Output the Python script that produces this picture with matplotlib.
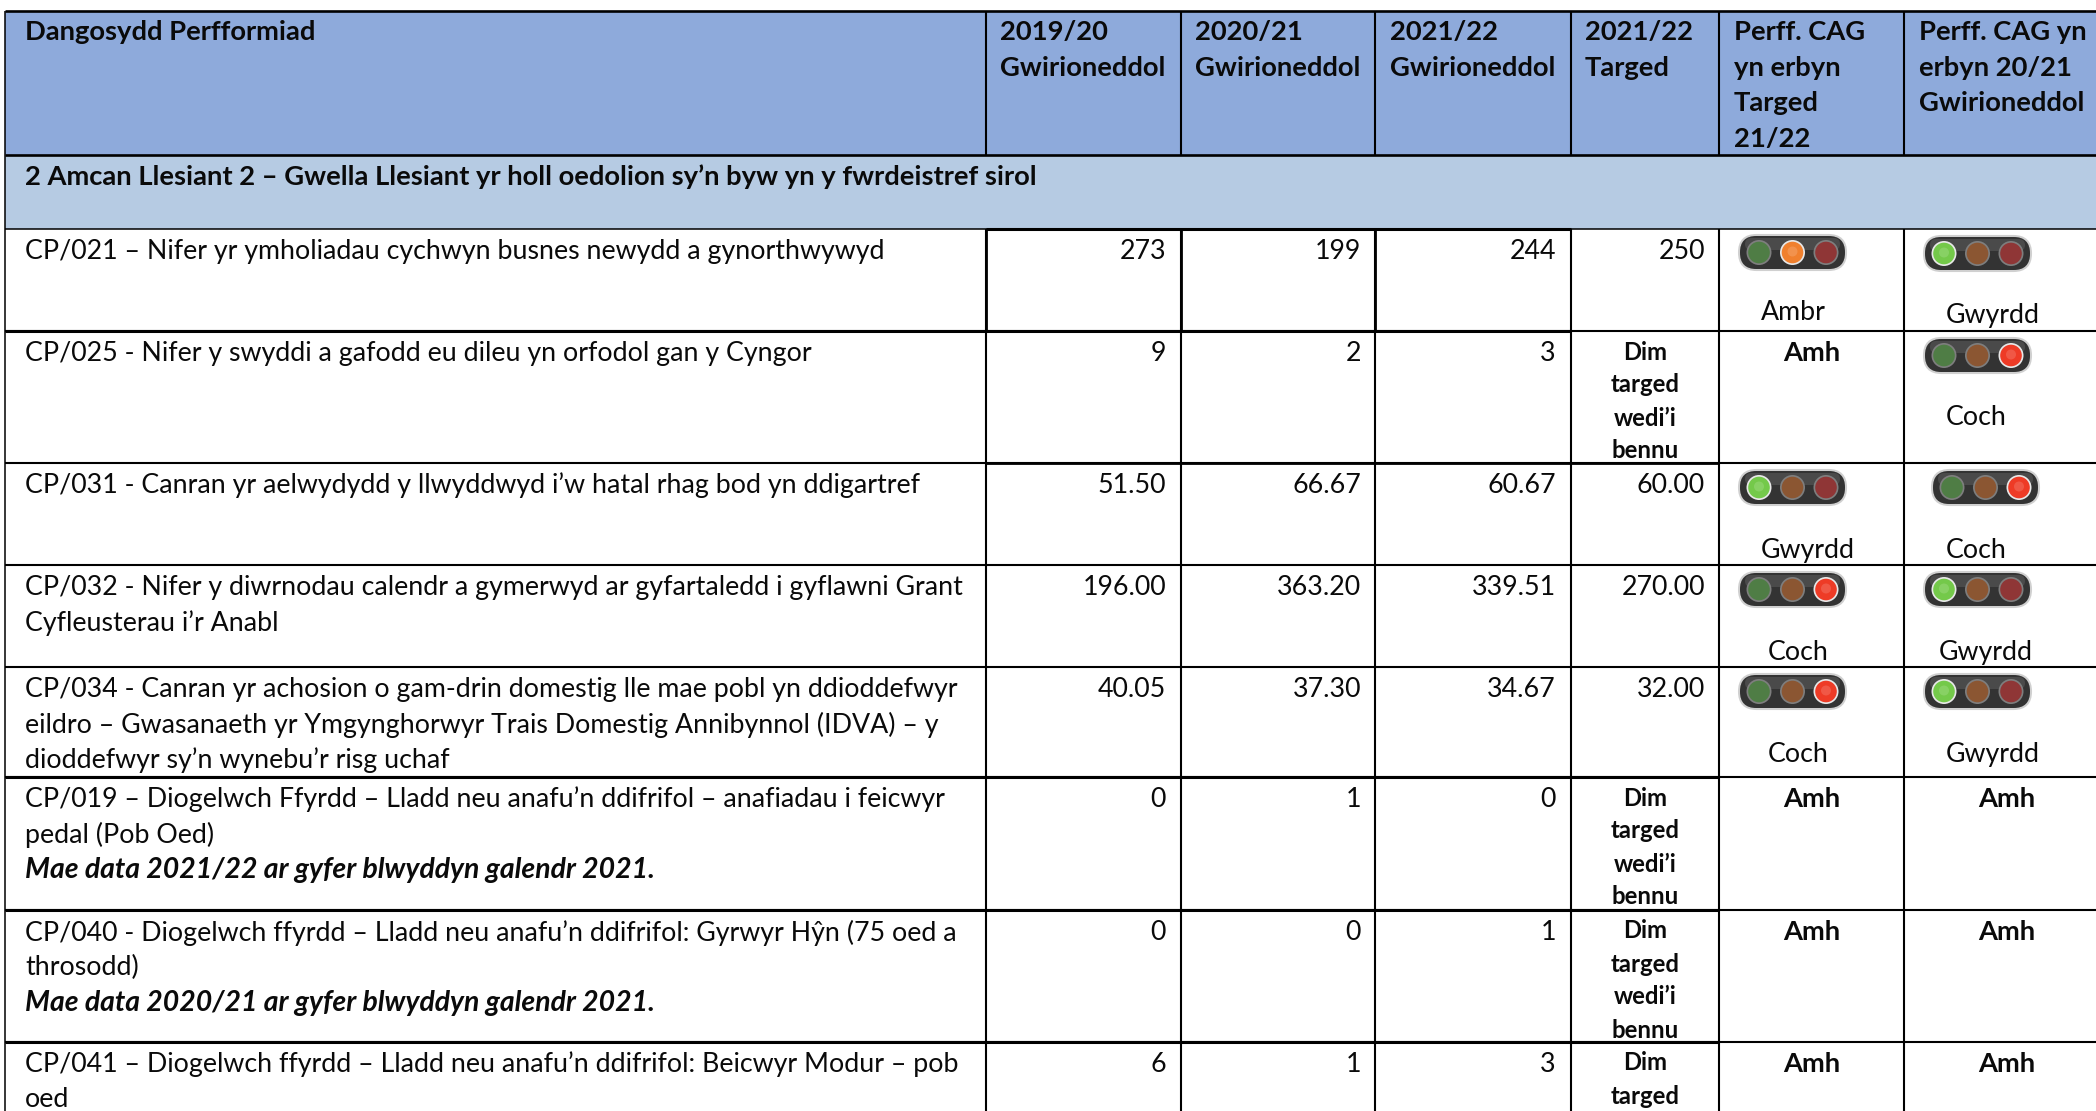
#!/usr/bin/env python3
"""Welsh performance indicator table with traffic lights."""

import matplotlib
matplotlib.use("Agg")
import matplotlib.pyplot as plt
from matplotlib.patches import Circle, FancyBboxPatch, Rectangle

plt.rcParams["font.family"] = ["Lato", "DejaVu Sans"]

HEADERS = [
    "Dangosydd Perfformiad",
    "2019/20\nGwirioneddol",
    "2020/21\nGwirioneddol",
    "2021/22\nGwirioneddol",
    "2021/22\nTarged",
    "Perff. CAG\nyn erbyn\nTarged\n21/22",
    "Perff. CAG yn\nerbyn 20/21\nGwirioneddol",
]
SECTION = "2 Amcan Llesiant 2 – Gwella Llesiant yr holl oedolion sy’n byw yn y fwrdeistref sirol"

INDICATORS = [
    ["CP/021 – Nifer yr ymholiadau cychwyn busnes newydd a gynorthwywyd"],
    ["CP/025 - Nifer y swyddi a gafodd eu dileu yn orfodol gan y Cyngor"],
    ["CP/031 - Canran yr aelwydydd y llwyddwyd i’w hatal rhag bod yn ddigartref"],
    ["CP/032 - Nifer y diwrnodau calendr a gymerwyd ar gyfartaledd i gyflawni Grant",
     "Cyfleusterau i’r Anabl"],
    ["CP/034 - Canran yr achosion o gam-drin domestig lle mae pobl yn ddioddefwyr",
     "eildro – Gwasanaeth yr Ymgynghorwyr Trais Domestig Annibynnol (IDVA) – y",
     "dioddefwyr sy’n wynebu’r risg uchaf"],
    ["CP/019 – Diogelwch Ffyrdd – Lladd neu anafu’n ddifrifol – anafiadau i feicwyr",
     "pedal (Pob Oed)"],
    ["CP/040 - Diogelwch ffyrdd – Lladd neu anafu’n ddifrifol: Gyrwyr Hŷn (75 oed a",
     "throsodd)"],
    ["CP/041 – Diogelwch ffyrdd – Lladd neu anafu’n ddifrifol: Beicwyr Modur – pob",
     "oed"],
]
NOTES = [None, None, None, None, None,
         "Mae data 2021/22 ar gyfer blwyddyn galendr 2021.",
         "Mae data 2020/21 ar gyfer blwyddyn galendr 2021.",
         None]

ACTUAL_1920 = ["273", "9", "51.50", "196.00", "40.05", "0", "0", "6"]
ACTUAL_2021 = ["199", "2", "66.67", "363.20", "37.30", "1", "0", "1"]
ACTUAL_2122 = ["244", "3", "60.67", "339.51", "34.67", "0", "1", "3"]
TARGET_2122 = ["250", None, "60.00", "270.00", "32.00", None, None, None]
VS_TARGET = ["Ambr", "Amh", "Gwyrdd", "Coch", "Coch", "Amh", "Amh", "Amh"]
VS_PREVIOUS = ["Gwyrdd", "Coch", "Coch", "Gwyrdd", "Gwyrdd", "Amh", "Amh", "Amh"]
NO_TARGET = ["Dim", "targed", "wedi’i", "bennu"]

# layout, in reference pixels
W, H = 2096, 1111
COL_X = [5, 986, 1181, 1375, 1571, 1719, 1904]
ROW_Y = [229, 331, 463, 565, 667, 777, 910, 1042]
NUM_RIGHT = [1166, 1361, 1556, 1705]
LINE = 35.3
FS = 19.3
FS_BOLD = 19.7
FS_NOTE = 20.4
FS_SMALL = 17.2
INK = "#0a0a0a"

# pill left, pill top, label x, label y for each lit cell, per column
LIGHT_A = {0: (1739, 235, 1761, 310), 2: (1739, 470, 1761, 548),
           3: (1739, 572, 1768, 650), 4: (1739, 674, 1768, 752)}
LIGHT_B = {0: (1924, 236, 1946, 313), 1: (1924, 338, 1946, 415),
           2: (1932, 470, 1946, 548), 3: (1924, 572, 1939, 650),
           4: (1924, 674, 1946, 752)}
LAMP = {"Gwyrdd": 0, "Ambr": 1, "Coch": 2}
LIT = ["#74c94a", "#f0802e", "#ee3b26"]
DIM = ["#4f7d45", "#8b5632", "#8f3636"]

fig = plt.figure(figsize=(W / 100, H / 100), dpi=100, facecolor="white")
ax = fig.add_axes([0, 0, 1, 1])
ax.set_xlim(0, W)
ax.set_ylim(H, 0)
ax.axis("off")


def put(x, y, s, **kw):
    kw.setdefault("fontsize", FS)
    kw.setdefault("color", INK)
    ax.text(x, y, s, va="center_baseline", **kw)


def hline(y, x0=5, x1=W, lw=1.5):
    ax.plot([x0, x1], [y, y], color="black", lw=lw, solid_capstyle="butt", zorder=4)


def vline(x, y0, y1, lw=1.5):
    ax.plot([x, x], [y0, y1], color="black", lw=lw, solid_capstyle="butt", zorder=4)


def light(left, top, state):
    ax.add_patch(FancyBboxPatch((left, top), 107, 35, boxstyle="round,pad=0,rounding_size=17.5",
                                fc="#9a9a9a", ec="#d0d0d0", lw=1.5, zorder=5))
    ax.add_patch(FancyBboxPatch((left + 1, top + 1), 105, 33, boxstyle="round,pad=0,rounding_size=16.5",
                                fc="#333333", ec="none", zorder=5))
    ax.add_patch(FancyBboxPatch((left + 6, top + 3), 95, 12, boxstyle="round,pad=0,rounding_size=6",
                                fc="#4a4a4a", ec="none", zorder=5))
    cy = top + 17.5
    for i in range(3):
        cx = left + 20 + 33.5 * i
        on = i == LAMP[state]
        ax.add_patch(Circle((cx, cy), 12.5, fc="#e8e8e8" if on else "#7e7e7e", ec="none", zorder=6))
        ax.add_patch(Circle((cx, cy), 10.8, fc=LIT[i] if on else DIM[i], ec="none", zorder=7))
        if on:
            ax.add_patch(Circle((cx, cy - 1), 5, fc="white", alpha=0.15, ec="none", zorder=8))


# header and section fills
ax.add_patch(Rectangle((5, 11), W - 5, 144, fc="#8eaadb", ec="none"))
ax.add_patch(Rectangle((5, 155), W - 5, 74, fc="#b6cbe3", ec="none"))

header_x = [25, 1000, 1195, 1390, 1585, 1734, 1919]
for x, head in zip(header_x, HEADERS):
    for j, part in enumerate(head.split("\n")):
        put(x, 30 + j * 35.7, part, fontweight="bold", fontsize=FS_BOLD)
put(25, 175, SECTION, fontweight="bold", fontsize=FS_BOLD)

# body text
for r, top in enumerate(ROW_Y):
    for j, part in enumerate(INDICATORS[r]):
        put(25, top + 20 + j * LINE, part)
    if NOTES[r]:
        put(25, top + 20 + len(INDICATORS[r]) * LINE, NOTES[r], fontweight="bold", style="italic", fontsize=FS_NOTE)
    for right, col in zip(NUM_RIGHT, [ACTUAL_1920, ACTUAL_2021, ACTUAL_2122, TARGET_2122]):
        if col[r] is not None:
            put(right, top + 20, col[r], ha="right")
    if TARGET_2122[r] is None:
        for j, part in enumerate(NO_TARGET):
            # the last row runs off the page after two lines
            if top + 19 + j * 33 < H:
                put(1645, top + 19 + j * 33, part, ha="center", fontweight="bold", fontsize=FS_SMALL)
    if VS_TARGET[r] == "Amh":
        put(1812, top + 20, "Amh", ha="center", fontweight="bold", fontsize=FS_BOLD)
    else:
        left, ptop, lx, ly = LIGHT_A[r]
        light(left, ptop, VS_TARGET[r])
        put(lx, ly, VS_TARGET[r])
    if VS_PREVIOUS[r] == "Amh":
        put(2007, top + 20, "Amh", ha="center", fontweight="bold", fontsize=FS_BOLD)
    else:
        left, ptop, lx, ly = LIGHT_B[r]
        light(left, ptop, VS_PREVIOUS[r])
        put(lx, ly, VS_PREVIOUS[r])

# rules
hline(11, lw=1.9)
hline(155, lw=1.9)
hline(229, lw=1.1)
hline(229, 986, 1571, lw=2.2)
for y in ROW_Y[1:]:
    hline(y, lw=1.5)
hline(331, 5, 1571, lw=2.2)
hline(463, 986, 1719, lw=2.0)
for y in ROW_Y[5:]:
    hline(y, 5, 1719, lw=2.2)

vline(5, 11, H, lw=1.1)
for x in COL_X[1:]:
    vline(x, 11, 155, lw=1.5)
    vline(x, 229, H, lw=1.5)
for x in COL_X[1:4]:
    vline(x, 229, 331, lw=2.0)

fig.savefig("out.png", dpi=100, facecolor="white")
